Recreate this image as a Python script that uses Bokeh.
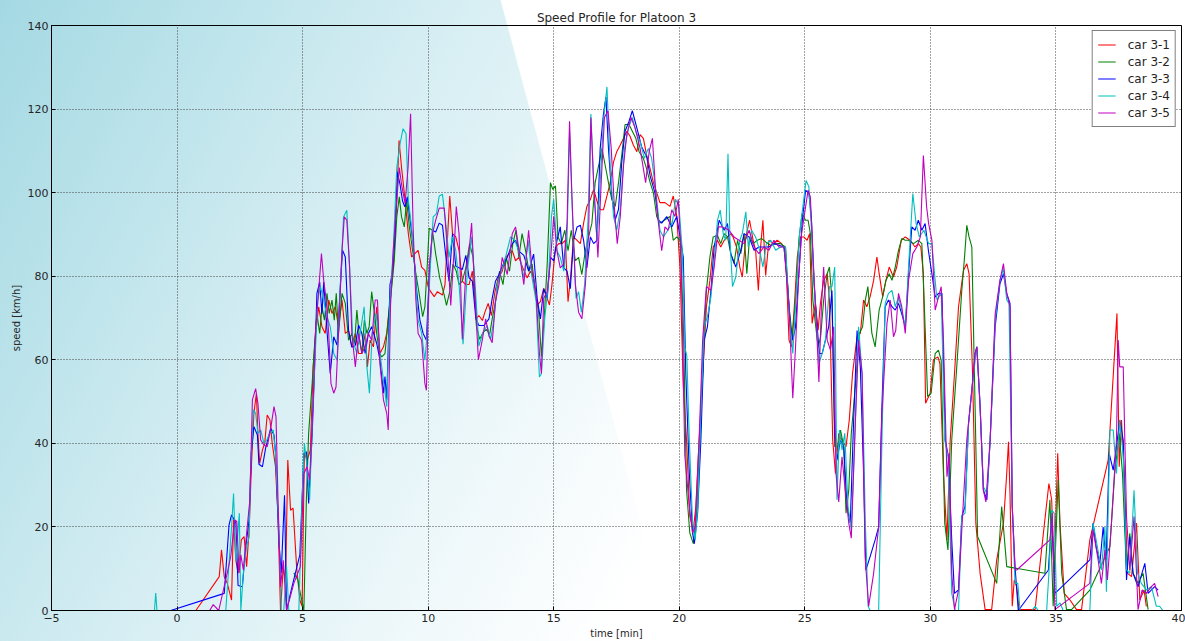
from bokeh.plotting import figure
from bokeh.models import FixedTicker, GlobalInlineStyleSheet
from bokeh.embed import file_html
from bokeh.resources import INLINE

# ---------------- data ----------------
x_ticks = [-5, 0, 5, 10, 15, 20, 25, 30, 35, 40]
y_ticks = [0, 20, 40, 60, 80, 100, 120, 140]
labels = ["car 3-1", "car 3-2", "car 3-3", "car 3-4", "car 3-5"]
colors = ["#ff0000", "#008000", "#0000ff", "#00bfbf", "#bf00bf"]

car1_t = [0.75, 1.68, 1.77, 1.88, 2.0, 2.17, 2.25, 2.34, 2.43, 2.56, 2.67, 2.77, 2.87, 2.96, 3.06, 3.16, 3.22, 3.29, 3.4, 3.49, 3.59, 3.7, 3.79, 3.92, 4.02, 4.12, 4.23, 4.32, 4.41, 4.52, 4.62, 4.76, 4.89, 4.98, 5.07, 5.18, 5.31, 5.42, 5.52, 5.64, 5.77, 5.9, 6.04, 6.17, 6.3, 6.43, 6.57, 6.7, 6.83, 6.96, 7.1, 7.23, 7.36, 7.49, 7.58, 7.69, 7.82, 7.95, 8.08, 8.22, 8.35, 8.48, 8.61, 8.75, 8.84, 8.94, 9.08, 9.21, 9.34, 9.47, 9.6, 9.74, 9.87, 10.0, 10.1, 10.24, 10.37, 10.57, 10.67, 10.86, 10.97, 11.1, 11.23, 11.36, 11.5, 11.63, 11.76, 11.92, 12.02, 12.16, 12.26, 12.39, 12.52, 12.66, 12.79, 12.95, 13.08, 13.21, 13.35, 13.48, 13.61, 13.77, 13.94, 14.07, 14.2, 14.34, 14.47, 14.6, 14.74, 14.83, 14.93, 15.07, 15.2, 15.33, 15.46, 15.57, 15.67, 15.79, 15.93, 16.06, 16.19, 16.32, 16.46, 16.59, 16.72, 16.85, 16.98, 17.12, 17.25, 17.38, 17.51, 17.65, 17.78, 17.91, 18.04, 18.17, 18.31, 18.44, 18.57, 18.7, 18.84, 18.97, 19.1, 19.23, 19.43, 19.63, 19.76, 19.9, 20.03, 20.16, 20.29, 20.42, 20.56, 20.66, 20.79, 20.95, 21.08, 21.22, 21.35, 21.52, 21.65, 21.79, 21.92, 22.05, 22.14, 22.28, 22.41, 22.51, 22.65, 22.8, 22.94, 23.04, 23.15, 23.24, 23.33, 23.44, 23.57, 23.73, 23.9, 24.07, 24.23, 24.37, 24.47, 24.58, 24.7, 24.83, 24.96, 25.09, 25.19, 25.29, 25.42, 25.53, 25.62, 25.75, 25.89, 25.98, 26.11, 26.22, 26.35, 26.48, 26.64, 26.77, 26.9, 27.08, 27.21, 27.34, 27.47, 27.6, 27.74, 27.87, 27.96, 28.1, 28.23, 28.36, 28.53, 28.66, 28.84, 29.0, 29.19, 29.39, 29.52, 29.62, 29.72, 29.81, 29.99, 30.12, 30.3, 30.38, 30.52, 30.66, 30.79, 30.96, 31.12, 31.32, 31.45, 31.54, 31.68, 31.81, 31.98, 32.18, 32.44, 32.64, 32.91, 33.04, 33.11, 33.17, 33.26, 33.34, 33.44, 33.53, 34.17, 34.5, 34.72, 34.83, 34.93, 35.07, 35.16, 35.33, 35.56, 35.82, 36.02, 36.35, 37.08, 37.43, 37.52, 37.61, 37.72, 37.85, 38.01, 38.21, 38.34, 38.51, 38.6]
car1_v = [0, 8.1, 14.5, 8.1, 6.5, 2.5, 21.7, 12.1, 8.9, 16.9, 17.7, 10.5, 19.3, 34.4, 47.2, 52, 42.4, 35.2, 38.4, 40, 46.8, 45.6, 40, 34.4, 22.5, 0, 10.5, 6.5, 36, 24, 24.5, 10.5, 2.5, 1, 37.6, 36, 38.4, 58.3, 66.3, 72.7, 67.9, 66.3, 74.3, 71.1, 72.7, 67.9, 74.3, 66.3, 67, 63.1, 66.3, 61.5, 61.5, 66.3, 58.3, 64.7, 63.1, 72.7, 61.5, 63.1, 66.3, 74.3, 82.2, 98.2, 112.5, 106, 98.2, 90.2, 84.6, 85.4, 86.2, 82.2, 81.4, 77.5, 76.3, 75.1, 76.3, 75.5, 78, 99.2, 90.2, 89.4, 86.1, 78.8, 78, 78, 81.2, 69.8, 70.6, 69.4, 71.4, 73.5, 70.6, 76.3, 79.6, 81.2, 84.5, 85.3, 86.1, 83.7, 84.5, 82, 79.6, 81.2, 79.6, 73.1, 73.9, 77.1, 74.7, 73.1, 78, 86.9, 87.8, 87.8, 88.6, 73.9, 79.6, 89.4, 88.6, 87.8, 92.7, 96.7, 98.4, 100.8, 98, 95.9, 95.9, 99.2, 102.4, 107.3, 109.8, 111.4, 113, 114.7, 113.5, 111.4, 109.8, 113.9, 113, 109, 105.7, 102.4, 100, 97.6, 97.6, 96.7, 99.2, 94.3, 82, 53.5, 40.8, 22.5, 19.3, 24.9, 40.8, 58.3, 72.7, 79, 87, 88.6, 87, 88.6, 89.4, 90.2, 89.4, 87, 82.2, 79.8, 89.4, 93.4, 88.6, 86.2, 76.6, 87, 93.4, 80.2, 88.6, 87.8, 88.6, 87.8, 86.2, 64.7, 63.1, 72.7, 84.6, 89.4, 89.4, 88.6, 90.2, 68.7, 73.5, 67.1, 73.5, 79, 80.6, 74.3, 40.8, 32.8, 42.4, 40.8, 39.2, 45.6, 56.7, 65.5, 66.3, 74.3, 72.7, 75.1, 79, 84.6, 80.6, 75.1, 79, 82.2, 79.8, 82.2, 88.6, 89.4, 88.6, 87, 87.8, 87, 80.6, 49.6, 52, 60, 60.7, 59.1, 32.8, 16.9, 40.8, 56.7, 72.7, 81.4, 83, 80.6, 56.7, 20.9, 8.9, 0.2, 0.2, 12.1, 20.9, 32.8, 40.4, 28, 1, 7.3, 5.7, 0.2, 0.2, 18.5, 30.4, 26.5, 8.9, 37.6, 20.9, 4.1, 2.5, 0.2, 0.2, 16.9, 36, 71.1, 34.4, 45.6, 32.8, 8.9, 8.1, 20.9, 2.5, 4.9, 1]

car2_t = [4.65, 4.81, 4.91, 5.05, 5.15, 5.24, 5.38, 5.48, 5.57, 5.68, 5.77, 5.87, 5.97, 6.06, 6.17, 6.26, 6.34, 6.43, 6.57, 6.7, 6.83, 6.96, 7.07, 7.16, 7.27, 7.36, 7.46, 7.56, 7.65, 7.75, 7.86, 7.95, 8.06, 8.15, 8.28, 8.41, 8.55, 8.65, 8.75, 8.85, 8.94, 9.05, 9.14, 9.25, 9.38, 9.51, 9.64, 9.78, 9.87, 9.96, 10.04, 10.17, 10.3, 10.46, 10.64, 10.73, 10.86, 10.99, 11.12, 11.23, 11.36, 11.5, 11.65, 11.79, 11.92, 12.05, 12.18, 12.31, 12.45, 12.55, 12.68, 12.84, 12.98, 13.11, 13.24, 13.37, 13.5, 13.61, 13.74, 13.88, 14.01, 14.14, 14.27, 14.4, 14.51, 14.62, 14.74, 14.87, 14.96, 15.07, 15.17, 15.3, 15.44, 15.57, 15.7, 15.86, 15.99, 16.12, 16.26, 16.39, 16.52, 16.65, 16.79, 16.92, 17.05, 17.18, 17.31, 17.45, 17.58, 17.71, 17.84, 18.0, 18.13, 18.27, 18.4, 18.57, 18.7, 18.84, 18.97, 19.1, 19.23, 19.43, 19.63, 19.76, 19.9, 20.03, 20.16, 20.29, 20.42, 20.56, 20.69, 20.82, 20.95, 21.08, 21.22, 21.35, 21.52, 21.65, 21.79, 21.92, 22.05, 22.18, 22.32, 22.45, 22.58, 22.69, 22.8, 22.94, 23.11, 23.28, 23.44, 23.64, 23.84, 24.03, 24.23, 24.37, 24.5, 24.63, 24.76, 24.89, 25.03, 25.13, 25.22, 25.32, 25.42, 25.53, 25.63, 25.75, 25.89, 25.98, 26.08, 26.19, 26.32, 26.42, 26.55, 26.64, 26.75, 26.85, 27.01, 27.17, 27.3, 27.41, 27.51, 27.67, 27.8, 27.96, 28.1, 28.23, 28.36, 28.47, 28.6, 28.73, 28.86, 29.0, 29.13, 29.33, 29.52, 29.66, 29.76, 29.89, 30.03, 30.19, 30.32, 30.43, 30.57, 30.7, 30.85, 31.05, 31.25, 31.36, 31.45, 31.54, 31.65, 31.78, 31.88, 32.64, 32.84, 33.04, 34.56, 34.76, 34.89, 35.09, 35.23, 35.42, 35.62, 36.35, 37.15, 37.34, 37.52, 37.65, 37.81, 37.94, 38.07, 38.27, 38.47, 38.67]
car2_v = [9, 7.3, 4.1, 0, 26.5, 42.4, 54.3, 63.9, 71.1, 66.3, 72.7, 69.5, 75.9, 71.1, 74.3, 69.5, 75.9, 66.3, 75.9, 73.5, 64.7, 66.3, 63.9, 71.9, 64.7, 61.5, 69.5, 66.3, 67.9, 76.3, 71.1, 66.3, 61.5, 60.7, 61.5, 69.5, 77.5, 83.8, 94.2, 99, 94.2, 91.8, 98.2, 91.8, 86.2, 80.6, 75.9, 70.3, 72.7, 82.2, 91.5, 91, 85.3, 79.6, 75.5, 73, 76.3, 82.9, 81.2, 78, 78.8, 82, 87.8, 84.5, 68.2, 64.9, 66.5, 67.3, 66.1, 69.8, 73.9, 81.2, 78, 84.5, 81.2, 87.8, 91, 84.5, 90.2, 86.1, 81.2, 82.9, 76.3, 71.4, 60.8, 69.8, 82.9, 102.4, 100.8, 101.6, 89.4, 87.8, 91, 86.1, 91, 83.7, 84.5, 80.4, 86.1, 89.4, 92.7, 102.4, 106.5, 110.6, 106.5, 102.4, 98.4, 96.7, 102.4, 109, 116.3, 116.3, 114.7, 113, 109.8, 108.2, 105.7, 102.4, 100, 94.3, 92.7, 93.5, 94.3, 88.6, 89.4, 88.6, 69.8, 28.8, 18.5, 16, 23.3, 40.8, 60.7, 76.6, 84.6, 89.4, 89.8, 87.8, 90.2, 89.4, 85.4, 83, 88.6, 85.4, 90.2, 80.6, 89.4, 87.8, 88.6, 89, 88.2, 87.4, 87.8, 87.8, 87, 72.7, 65.5, 74.3, 88.6, 95, 93.4, 93.4, 90.2, 74.3, 68.7, 63.1, 65.5, 74.3, 80.6, 82.2, 74.3, 39.2, 39.2, 43.2, 39.2, 23.3, 28.8, 42.4, 53.5, 66.3, 67.9, 74.3, 77.5, 66.3, 63.1, 71.9, 75.1, 79, 80.6, 79, 82.2, 86.2, 89, 88.6, 88.6, 87.8, 88.6, 87.8, 72.7, 51.2, 52, 61.5, 62.3, 59.9, 20.9, 14.5, 40.8, 58.3, 76.6, 84.6, 92.2, 89.4, 87, 48.8, 17.7, 6.5, 24.9, 10.5, 8.9, 26.5, 1, 31.2, 8.9, 0.2, 0.2, 4.9, 15.3, 32.8, 42.4, 32.8, 8.9, 18.5, 8.9, 6.5, 8.9, 0.2]

car3_t = [-1.25, -0.25, 1.88, 2.07, 2.17, 2.34, 2.43, 2.6, 2.73, 2.87, 2.96, 3.06, 3.2, 3.26, 3.4, 3.53, 3.73, 3.86, 3.92, 4.06, 4.15, 4.28, 4.36, 4.58, 4.89, 5.05, 5.15, 5.24, 5.38, 5.47, 5.57, 5.68, 5.77, 5.84, 5.97, 6.1, 6.24, 6.37, 6.5, 6.59, 6.7, 6.83, 6.96, 7.1, 7.23, 7.36, 7.49, 7.62, 7.75, 7.95, 8.08, 8.22, 8.28, 8.35, 8.48, 8.57, 8.68, 8.77, 8.88, 8.98, 9.07, 9.17, 9.27, 9.4, 9.54, 9.67, 9.8, 9.93, 10.04, 10.17, 10.3, 10.44, 10.57, 10.7, 10.83, 10.97, 11.1, 11.23, 11.36, 11.5, 11.63, 11.76, 11.9, 12.02, 12.22, 12.42, 12.55, 12.68, 12.82, 12.95, 13.15, 13.35, 13.48, 13.61, 13.81, 14.0, 14.2, 14.34, 14.47, 14.6, 14.74, 14.87, 15.0, 15.13, 15.26, 15.4, 15.53, 15.66, 15.79, 15.93, 16.06, 16.19, 16.32, 16.46, 16.59, 16.72, 16.85, 16.98, 17.08, 17.18, 17.31, 17.45, 17.58, 17.71, 17.84, 18.0, 18.13, 18.31, 18.5, 18.7, 18.84, 19.03, 19.17, 19.3, 19.5, 19.7, 19.9, 20.03, 20.16, 20.26, 20.4, 20.53, 20.6, 20.73, 20.86, 20.99, 21.12, 21.26, 21.39, 21.59, 21.79, 21.92, 22.05, 22.25, 22.45, 22.58, 22.78, 22.98, 23.17, 23.37, 23.57, 23.77, 23.97, 24.17, 24.3, 24.43, 24.52, 24.63, 24.76, 24.9, 25.03, 25.16, 25.26, 25.36, 25.49, 25.58, 25.69, 25.82, 25.95, 26.08, 26.19, 26.28, 26.42, 26.55, 26.68, 26.81, 26.94, 27.08, 27.21, 27.34, 27.43, 27.6, 27.8, 27.94, 28.07, 28.2, 28.33, 28.47, 28.6, 28.73, 28.86, 29.0, 29.13, 29.26, 29.39, 29.52, 29.66, 29.79, 29.92, 30.06, 30.19, 30.32, 30.46, 30.59, 30.72, 30.85, 30.96, 31.12, 31.25, 31.38, 31.52, 31.65, 31.78, 31.85, 31.98, 32.11, 32.25, 32.38, 32.58, 32.77, 32.91, 33.04, 33.17, 33.26, 33.37, 33.5, 34.7, 34.83, 34.96, 36.35, 36.48, 36.6, 36.75, 36.88, 37.0, 37.12, 37.28, 37.41, 37.54, 37.68, 37.81, 37.94, 38.07, 38.27, 38.54, 38.67, 38.93, 39.07]
car3_v = [0, 0, 4.1, 20.5, 22.9, 21, 6, 5.7, 15, 21.7, 38, 44, 42, 35, 34.4, 39, 43.6, 42, 38, 16, 9, 27.6, 0, 5.7, 13.3, 37.6, 38, 25.6, 42, 56.7, 75.9, 78.6, 71, 78.6, 67, 56.7, 65.5, 63.5, 77.5, 86.2, 84.6, 67, 63, 63.5, 68.3, 66.3, 61.5, 66.3, 67.9, 63.9, 60, 52, 56, 50.4, 78, 80.6, 90.2, 105, 102, 98, 96.6, 99, 94, 87.8, 76.6, 69.5, 66.3, 64.7, 80, 91, 90.6, 92.7, 92.2, 85, 78.8, 90.2, 82.4, 82, 81.6, 85, 79.6, 78.8, 69.8, 68.2, 68.2, 69.8, 74.7, 78.8, 80.4, 82.4, 84.5, 87.8, 88.6, 86, 85, 81.2, 85.3, 74.7, 69.8, 77, 74.7, 84.5, 83.7, 88.6, 91.8, 82, 81.2, 77, 88.6, 91.8, 92.2, 88.6, 82, 89.4, 87.8, 88.6, 110.6, 118.8, 122.9, 110.6, 99.2, 93.5, 96, 107.3, 114.7, 117.1, 119.6, 115.5, 111, 108.6, 104, 100, 93.5, 92.7, 94.3, 91.8, 94.3, 89.4, 84.5, 56.7, 32.8, 18.5, 16, 23.3, 40.8, 64.7, 67.9, 76.6, 87, 93.4, 91, 92.6, 85.4, 82.2, 86.2, 90.2, 89.4, 86.2, 87, 87, 87, 87.8, 87.4, 87, 79, 67.9, 64.7, 67.9, 80.6, 93.4, 100.6, 99.8, 94.2, 79, 67.9, 61.5, 61.5, 64.7, 67.9, 76.6, 42.4, 36, 40.8, 39.2, 24.9, 20.9, 44.8, 67, 58.3, 32.8, 9.7, 12.9, 16.9, 20, 48.8, 72.7, 74.3, 72.7, 71.9, 73.5, 71, 67.9, 80.6, 91.8, 91, 93.4, 91, 92.6, 86.2, 80.6, 75, 75.9, 75.9, 40.8, 36.8, 16.9, 4.1, 4.9, 22.5, 24.9, 44.8, 52.7, 61.5, 63.1, 48.8, 28.8, 26.5, 40.8, 67.9, 78.2, 80.6, 75.9, 73.5, 24.9, 10.5, 0, 9.7, 22.5, 4.1, 12.1, 20.9, 15.3, 11.3, 20, 12, 37.6, 33.6, 39.2, 45.6, 40.8, 7.3, 17.7, 8.9, 5.7, 11.3, 4.1, 5.7, 4.9]

car4_t = [-1.0, -0.9, -0.85, -0.8, 1.94, 2.07, 2.17, 2.25, 2.34, 2.48, 2.54, 2.64, 2.77, 2.87, 2.93, 3.04, 3.13, 3.22, 3.33, 3.46, 3.57, 3.7, 3.83, 3.92, 4.06, 4.15, 4.25, 4.36, 4.45, 4.85, 4.98, 5.07, 5.18, 5.28, 5.39, 5.51, 5.6, 5.71, 5.84, 5.97, 6.1, 6.24, 6.37, 6.5, 6.63, 6.76, 6.87, 7.0, 7.16, 7.29, 7.45, 7.56, 7.66, 7.77, 7.93, 8.08, 8.22, 8.35, 8.48, 8.61, 8.75, 8.88, 9.0, 9.12, 9.21, 9.34, 9.47, 9.6, 9.74, 9.87, 9.96, 10.07, 10.2, 10.33, 10.44, 10.57, 10.7, 10.83, 10.97, 11.1, 11.23, 11.39, 11.56, 11.73, 11.87, 12.02, 12.18, 12.35, 12.49, 12.62, 12.75, 12.92, 13.08, 13.28, 13.45, 13.61, 13.81, 13.98, 14.14, 14.3, 14.43, 14.51, 14.64, 14.78, 14.91, 15.0, 15.13, 15.26, 15.4, 15.53, 15.63, 15.75, 15.89, 15.99, 16.1, 16.23, 16.36, 16.48, 16.59, 16.72, 16.85, 16.98, 17.12, 17.25, 17.38, 17.51, 17.65, 17.82, 17.98, 18.13, 18.27, 18.44, 18.61, 18.77, 18.9, 19.06, 19.23, 19.37, 19.54, 19.72, 19.85, 19.99, 20.12, 20.22, 20.3, 20.4, 20.53, 20.63, 20.74, 20.82, 20.99, 21.12, 21.26, 21.39, 21.52, 21.63, 21.75, 21.85, 21.94, 22.02, 22.12, 22.25, 22.41, 22.51, 22.65, 22.75, 22.88, 23.04, 23.2, 23.33, 23.47, 23.64, 23.84, 24.03, 24.23, 24.37, 24.52, 24.66, 24.79, 24.92, 25.05, 25.16, 25.29, 25.42, 25.56, 25.69, 25.82, 25.98, 26.08, 26.19, 26.28, 26.38, 26.48, 26.59, 26.72, 26.85, 27.01, 27.14, 27.28, 27.41, 27.52, 27.6, 27.94, 28.07, 28.2, 28.33, 28.47, 28.6, 28.73, 28.86, 29.0, 29.13, 29.3, 29.43, 29.56, 29.74, 29.93, 30.06, 30.26, 30.43, 30.57, 30.7, 30.85, 30.99, 31.12, 31.25, 31.38, 31.52, 31.72, 31.85, 31.98, 32.11, 32.25, 32.38, 32.58, 32.77, 32.91, 33.04, 33.13, 33.26, 33.37, 33.48, 33.57, 34.03, 34.17, 34.3, 34.63, 34.72, 34.83, 34.93, 35.03, 35.16, 35.29, 36.35, 36.48, 36.6, 36.81, 36.95, 37.01, 37.15, 37.28, 37.41, 37.54, 37.68, 37.81, 37.94, 38.11, 38.25, 38.4, 38.6, 38.8, 39.0, 39.13, 39.26]
car4_v = [0, 0, 4.2, 0, 0, 11.3, 20, 28, 12, 23.3, 0, 9, 15.3, 17.7, 34.4, 48, 47.2, 42.4, 43.2, 40, 40.8, 42.4, 43.2, 37.6, 18.5, 0, 0, 10.5, 0, 0, 26.5, 40, 34.4, 26.5, 46.4, 62.3, 74.3, 77.5, 74.3, 70.3, 67.9, 61.5, 59.9, 77.5, 94.2, 95.8, 82.2, 64.7, 61.5, 66.3, 72.7, 58.3, 52, 66.3, 71.1, 61.5, 55.1, 48.8, 74.3, 86.2, 106, 111.7, 115.3, 114.1, 98.2, 91.8, 82.2, 69.5, 66.3, 59.9, 66.3, 80.6, 94.2, 95, 99.2, 99.6, 92.7, 84.5, 89.4, 86.1, 78, 63.7, 81.2, 89.4, 78, 63.3, 66.5, 68.2, 64.9, 69.8, 78, 81.2, 84.5, 89.4, 88.6, 86, 79.6, 88.6, 79.6, 73.9, 55.9, 56.7, 69.8, 78, 94.3, 98.4, 86.1, 84.5, 81.2, 88.6, 114.7, 94.3, 74.7, 76.3, 71.4, 78, 92.7, 118.8, 102.4, 88.6, 102.4, 117.1, 125.3, 106.5, 94.3, 91, 95.9, 110.6, 115.5, 118, 114.7, 112.2, 108.2, 110.6, 108.2, 100.8, 91, 89.4, 91, 92.7, 98.4, 96.7, 86.1, 63, 61, 40.8, 20.9, 16.9, 24.9, 40.8, 67.9, 70.3, 75, 83.8, 93.4, 95.8, 90.2, 88.6, 109.3, 88.6, 77.5, 79.8, 88.6, 90.2, 95.4, 87, 91, 89.4, 86.2, 82.2, 87.8, 88.6, 86.2, 87, 87, 71.1, 61.5, 75.9, 90.2, 96.6, 102.9, 101.4, 88.6, 72.7, 59.1, 61.5, 64.7, 77.5, 77.5, 82.2, 26.5, 43.2, 38.4, 42.4, 24.9, 19.3, 44.8, 67.9, 56.7, 20.9, 1, 0, 0, 40.8, 73.5, 75.9, 76.6, 72.7, 75, 71.9, 67.9, 82.2, 99.8, 92.6, 89.4, 91, 87.8, 87.8, 74.3, 75.9, 40.8, 36.8, 4.1, 0, 0, 22.5, 23.3, 44.8, 56.7, 63.1, 48.8, 29.6, 28, 40.8, 69.5, 79, 81.8, 74.3, 73.5, 24.9, 6.5, 6.5, 0, 0, 1, 0, 0, 8.9, 24, 23.3, 1, 1.8, 0, 0, 20.9, 16.9, 9.7, 20, 4.5, 43.2, 43.2, 32.8, 45.6, 36.8, 9.7, 8.9, 28.8, 8.9, 6.5, 4.9, 5.7, 1, 1, 0]

car5_t = [-1.2, 1.3, 1.44, 1.66, 2.0, 2.14, 2.3, 2.38, 2.47, 2.54, 2.64, 2.77, 2.9, 3.0, 3.13, 3.22, 3.33, 3.46, 3.59, 3.73, 3.86, 3.94, 4.02, 4.12, 4.23, 4.36, 4.65, 4.91, 5.05, 5.18, 5.28, 5.42, 5.51, 5.61, 5.75, 5.84, 5.94, 6.04, 6.13, 6.24, 6.33, 6.43, 6.57, 6.66, 6.76, 6.87, 6.96, 7.1, 7.23, 7.36, 7.49, 7.62, 7.75, 7.89, 7.98, 8.08, 8.22, 8.35, 8.41, 8.5, 8.61, 8.75, 8.85, 8.94, 9.08, 9.2, 9.3, 9.4, 9.51, 9.6, 9.74, 9.87, 9.93, 10.04, 10.17, 10.3, 10.44, 10.64, 10.77, 10.9, 11.03, 11.12, 11.23, 11.36, 11.5, 11.63, 11.73, 11.87, 12.0, 12.16, 12.29, 12.42, 12.55, 12.68, 12.82, 12.95, 13.15, 13.35, 13.48, 13.64, 13.81, 14.0, 14.14, 14.3, 14.43, 14.51, 14.6, 14.74, 14.87, 15.0, 15.13, 15.26, 15.4, 15.53, 15.63, 15.73, 15.86, 15.99, 16.12, 16.26, 16.39, 16.48, 16.59, 16.76, 16.89, 17.02, 17.16, 17.29, 17.42, 17.53, 17.65, 17.78, 17.91, 18.08, 18.24, 18.44, 18.66, 18.8, 18.93, 19.06, 19.17, 19.3, 19.43, 19.56, 19.7, 19.83, 19.96, 20.07, 20.22, 20.4, 20.53, 20.63, 20.79, 20.93, 21.08, 21.26, 21.39, 21.56, 21.72, 21.85, 21.98, 22.18, 22.38, 22.58, 22.78, 22.98, 23.17, 23.37, 23.57, 23.77, 23.97, 24.17, 24.37, 24.52, 24.63, 24.74, 24.87, 25.03, 25.13, 25.22, 25.36, 25.49, 25.56, 25.66, 25.75, 25.89, 26.02, 26.15, 26.24, 26.35, 26.48, 26.61, 26.75, 26.85, 27.01, 27.14, 27.28, 27.4, 27.54, 27.74, 27.94, 28.07, 28.27, 28.4, 28.53, 28.62, 28.73, 28.86, 29.0, 29.13, 29.3, 29.46, 29.6, 29.72, 29.85, 29.93, 30.06, 30.19, 30.32, 30.43, 30.52, 30.66, 30.75, 30.85, 30.96, 31.12, 31.28, 31.45, 31.65, 31.78, 31.85, 31.98, 32.11, 32.21, 32.38, 32.58, 32.77, 32.91, 33.04, 33.17, 33.26, 33.37, 33.44, 34.76, 34.85, 34.96, 36.35, 36.48, 36.68, 36.81, 36.95, 37.05, 37.21, 37.41, 37.48, 37.54, 37.68, 37.81, 37.94, 38.11, 38.27, 38.43, 38.6, 38.8, 38.93, 39.07]
car5_v = [0, 0, 1.4, 0, 9, 13, 21.7, 21.3, 9, 13.3, 9.7, 18.5, 26.5, 50.4, 53.1, 49.6, 40.8, 39.6, 39.2, 43.6, 48.8, 46.4, 26.5, 5.7, 12, 0, 6.5, 10.5, 32.8, 34.4, 31.2, 50.4, 66.3, 74.3, 85.4, 79, 74.3, 66.3, 54.3, 52, 53.5, 66.3, 86.2, 94.2, 93.4, 82.2, 66.3, 58.3, 66.3, 61.5, 63.1, 66.3, 64.7, 74.3, 74.3, 59, 50.4, 47.2, 43.2, 72.7, 86.2, 98.2, 106, 102, 97.4, 106, 118.9, 91.8, 74.3, 66.3, 64.7, 54.3, 52.7, 82.2, 90.2, 93.4, 96.3, 96.3, 86, 73, 86, 96.7, 90.2, 64.9, 81.2, 86, 92.7, 74.7, 60, 64.9, 69.8, 65.7, 64.1, 73.9, 78, 84.5, 80.4, 90.2, 91.8, 85.3, 78, 91, 81.2, 75.5, 61.6, 56.7, 74.7, 76.3, 83.7, 94.3, 86, 82, 82.9, 92.7, 117.1, 98.4, 78, 71.4, 69.8, 78, 90.2, 118, 102.4, 84.5, 102.4, 118, 119.6, 110.6, 96, 87.8, 94.3, 106.5, 113.9, 118, 115.5, 110.6, 102.4, 109.8, 113, 100, 92.7, 86.1, 91.8, 91, 95.9, 94.3, 98.4, 86.1, 37.1, 24.9, 18.5, 20, 40.8, 64.7, 77.5, 76.6, 82.2, 91.8, 91.8, 91.4, 91, 89.4, 88.6, 87.8, 91, 87, 85.4, 87, 86.2, 88.6, 87, 87, 72.7, 50.8, 63.1, 78.2, 90.2, 96.6, 100.6, 99, 80.6, 64.7, 54.7, 72.7, 82.2, 64.7, 62.3, 67.9, 32.8, 26, 36.8, 28.8, 20.9, 17.3, 44.8, 64.7, 56.7, 12.9, 1, 8.9, 20, 47.2, 68.7, 74.3, 65.5, 67, 75.9, 72.7, 66.3, 79, 85.4, 87, 89.4, 108.9, 96.6, 92.6, 88.6, 71.9, 75, 77.5, 64.7, 32, 37.6, 8.9, 0.2, 4.9, 22.5, 40.8, 52.7, 61.5, 63.1, 48.8, 28.8, 26, 40.8, 71, 79, 83, 75.9, 72.7, 24.9, 9.7, 9.7, 16.9, 23.3, 0.2, 6.5, 19.3, 12.1, 6.5, 14.5, 7.3, 20.9, 40.8, 64.7, 58.3, 58.3, 22.5, 9.7, 22.5, 0.2, 4.9, 4.1, 5.7, 6.5, 3.3]

series_t = [car1_t, car2_t, car3_t, car4_t, car5_t]
series_v = [car1_v, car2_v, car3_v, car4_v, car5_v]

# ---------------- figure ----------------
FONT = "DejaVu Sans"
TXT = "#262626"

page_css = GlobalInlineStyleSheet(css="""
html { min-height: 100%;
  background:
    linear-gradient(75deg, rgba(255,255,255,0) 49.5%, #ffffff 49.6%),
    linear-gradient(118deg, #a4d9e3 0%, #d6eef3 30%, #f1f9fb 50%, #ffffff 62%);
}
body { background: transparent; overflow: hidden; }
""")

p = figure(width=1185, height=641, x_range=(-5, 40), y_range=(0, 140),
           output_backend="svg", toolbar_location=None,
           min_border_left=51, min_border_right=4, min_border_top=25, min_border_bottom=0)
p.stylesheets = [page_css]
p.border_fill_color = None
p.background_fill_color = None
p.outline_line_color = "black"
p.outline_line_width = 1

p.title.text = "Speed Profile for Platoon 3"
p.title.align = "center"
p.title.text_font = FONT
p.title.text_font_size = "12px"
p.title.text_font_style = "normal"
p.title.text_color = TXT
p.title.standoff = 2
p.title.offset = 0

xax = p.below[0]
yax = p.left[0]
xax.ticker = FixedTicker(ticks=x_ticks)
yax.ticker = FixedTicker(ticks=y_ticks)
xax.major_label_overrides = {-5: "\u22125"}
xax.axis_label = "time [min]"
yax.axis_label = "speed [km/h]"
for ax in (xax, yax):
    ax.axis_line_color = "black"
    ax.major_tick_in = 4
    ax.major_tick_out = 0
    ax.major_tick_line_color = "black"
    ax.minor_tick_line_color = None
    ax.major_label_text_font = FONT
    ax.major_label_text_font_size = "11px"
    ax.major_label_text_color = TXT
    ax.axis_label_text_font = FONT
    ax.axis_label_text_font_size = "10px"
    ax.axis_label_text_font_style = "normal"
    ax.axis_label_text_color = TXT
    ax.major_label_standoff = 3
    ax.axis_label_standoff = 3

p.grid.grid_line_color = "#444444"
p.grid.grid_line_dash = "1 2"
p.grid.grid_line_width = 1

for t, v, c, lab in zip(series_t, series_v, colors, labels):
    p.line(t, v, line_color=c, line_width=1.1, legend_label=lab)

lg = p.legend[0]
lg.location = "top_right"
lg.margin = 5
lg.padding = 5
lg.spacing = 0
lg.border_line_color = "black"
lg.border_line_width = 1
lg.background_fill_color = "white"
lg.background_fill_alpha = 1
lg.label_text_font = FONT
lg.label_text_font_size = "12px"
lg.label_text_color = TXT
lg.glyph_width = 18
lg.glyph_height = 17
lg.label_height = 17
lg.label_standoff = 12

open("out.html", "w").write(file_html(p, INLINE))
